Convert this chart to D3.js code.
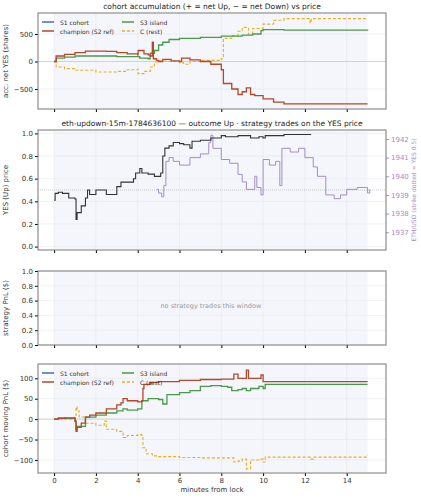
<!DOCTYPE html><html><head><meta charset="utf-8"><script src="https://cdn.jsdelivr.net/npm/d3@7"></script>
<style>body{margin:0;background:#fff}text{font-family:"DejaVu Sans",sans-serif}</style></head><body><svg id="c" width="421" height="500"></svg>
<script>
const xTicks=[0,2,4,6,8,10,12,14];
const accChampion=[[0,0],[0.1,100],[0.5,130],[1,160],[1.5,190],[2.5,185],[3,160],[3.5,140],[4,120],[4.02,200],[4.3,140],[4.5,120],[4.6,100],[4.7,350],[4.75,50],[4.9,20],[5,0],[5.2,40],[5.6,10],[6,0],[6.1,60],[6.5,30],[7,0],[7.5,-50],[8,-150],[8.1,-400],[8.5,-500],[8.8,-600],[9,-550],[9.2,-480],[9.4,-600],[9.6,-620],[10,-680],[10.5,-740],[11,-770],[15,-770]];
const accS3=[[0,0],[0.1,60],[0.5,80],[1,100],[2,100],[3,90],[4,90],[4.1,60],[4.5,50],[4.6,150],[4.8,200],[5,300],[5.2,350],[5.5,400],[6,420],[7,440],[8,460],[9,480],[9.5,500],[9.9,560],[10,580],[11,570],[15,560]];
const accC=[[0,0],[0.1,-100],[0.5,-130],[1,-160],[2,-190],[3,-180],[3.5,-150],[4,-140],[4.02,-220],[4.3,-180],[4.6,-100],[4.8,-10],[5,10],[5.5,0],[6,-20],[6.2,-50],[6.5,0],[7,20],[8,50],[8.1,420],[8.5,470],[8.8,550],[9,620],[9.3,500],[9.5,600],[10,680],[10.5,750],[11,780],[12.2,780],[12.25,700],[12.3,780],[15,780]];
const yesPrice=[[0,0.41],[0.05,0.47],[0.2,0.48],[0.4,0.47],[0.7,0.43],[1,0.42],[1.05,0.24],[1.1,0.3],[1.3,0.36],[1.5,0.43],[1.6,0.5],[1.7,0.46],[2,0.5],[2.5,0.46],[3,0.53],[3.2,0.57],[3.8,0.6],[3.9,0.65],[4.1,0.69],[4.2,0.65],[4.5,0.64],[4.8,0.62],[5.1,0.65],[5.2,0.8],[5.3,0.87],[5.5,0.89],[5.7,0.92],[6,0.91],[6.2,0.9],[6.5,0.87],[6.6,0.93],[7,0.94],[7.5,0.96],[8,0.98],[8.2,0.97],[8.8,0.98],[9.4,0.96],[9.8,0.97],[10,0.96],[10.1,0.98],[11,0.99],[12.3,0.99]];
const ethUsd=[[4.9,1939.3],[5.0,1939.1],[5.15,1938.9],[5.25,1939.5],[5.35,1940.8],[5.5,1941.0],[5.7,1940.8],[6,1940.6],[6.5,1941.0],[7,1941.2],[7.4,1941.8],[7.5,1942.2],[7.6,1941.5],[7.8,1941.5],[8,1940.9],[8.4,1940.7],[8.8,1940.1],[9,1939.7],[9.2,1939.3],[9.6,1940.0],[9.7,1939.4],[9.9,1939.0],[10,1940.9],[10.3,1940.6],[10.6,1940.8],[10.8,1939.5],[10.9,1941.5],[11.3,1941.3],[11.7,1941.5],[12,1941.0],[12.4,1940.5],[12.6,1940.0],[13,1939.0],[13.4,1938.8],[13.7,1939.0],[14,1939.3],[14.5,1939.4],[14.9,1939.4],[15,1939.1],[15.1,1939.3]];
const pnlChampion=[[0,0],[0.2,2],[0.5,3],[1,-5],[1.05,-30],[1.1,-20],[1.3,-10],[1.5,5],[1.7,10],[2,15],[2.5,25],[3,35],[3.2,40],[3.3,50],[3.5,45],[4,42],[4.2,45],[4.25,75],[4.3,85],[4.6,90],[5,92],[6,95],[7,97],[8,98],[8.6,110],[8.8,100],[9,100],[9.2,120],[9.3,100],[9.9,108],[10,92],[15,92]];
const pnlS3=[[0,0],[0.2,3],[0.5,2],[1,-5],[1.05,-25],[1.1,-18],[1.5,5],[2,10],[2.5,15],[3,20],[3.3,25],[3.5,22],[4,25],[4.2,45],[4.5,50],[5,48],[5.2,37],[5.4,60],[6,65],[6.5,70],[7,80],[7.5,82],[8,80],[8.3,78],[8.5,70],[8.8,72],[9,75],[9.2,70],[9.4,75],[9.8,80],[10,75],[10.1,85],[15,85]];
const pnlC=[[0,0],[0.5,0],[1,5],[1.05,30],[1.1,20],[1.2,5],[1.5,-10],[2,-15],[2.4,-5],[2.5,-25],[3,-30],[3.3,-45],[3.5,-40],[4,-38],[4.2,-40],[4.25,-70],[4.4,-85],[4.7,-90],[5,-92],[6,-94],[7,-95],[8.6,-105],[8.8,-103],[9,-98],[9.2,-122],[9.4,-100],[9.8,-98],[10,-105],[10.1,-93],[12.2,-93],[12.3,-98],[12.4,-93],[15,-90]];
const svg=d3.select("#c");
const L=38,R=386;
const x=d3.scaleLinear().domain([-0.77,15.88]).range([L,R]);
const C={blue:"#3b6fb6",red:"#b5472a",green:"#4a9a4a",orange:"#e8b020",black:"#333",purple:"#a58cc6"};
function panel(top,bot,dom,ticks,fmt,label,title){
 const y=d3.scaleLinear().domain(dom).range([bot,top]);
 const g=svg.append("g");
 g.append("rect").attr("x",x(0)).attr("width",x(15)-x(0)).attr("y",top+1).attr("height",bot-top-2).attr("fill","#f4f6fb");
 ticks.forEach(t=>g.append("line").attr("x1",L).attr("x2",R).attr("y1",y(t)).attr("y2",y(t)).attr("stroke","#e6e8ee").attr("stroke-width",0.6));
 xTicks.forEach(t=>g.append("line").attr("x1",x(t)).attr("x2",x(t)).attr("y1",top).attr("y2",bot).attr("stroke","#e6e8ee").attr("stroke-width",0.6));
 const ya=g.append("g").attr("transform",`translate(${L},0)`).call(d3.axisLeft(y).tickValues(ticks).tickFormat(fmt).tickSize(3).tickPadding(2));
 ya.select(".domain").remove();ya.selectAll("text").attr("font-size",7).attr("fill","#333");
 const xa=g.append("g").attr("transform",`translate(0,${bot})`).call(d3.axisBottom(x).tickValues(xTicks).tickSize(3).tickFormat(""));
 xa.select(".domain").remove();
 svg.append("text").attr("transform",`translate(8,${(top+bot)/2}) rotate(-90)`).attr("text-anchor","middle").attr("font-size",7).attr("fill","#333").text(label);
 if(title)svg.append("text").attr("x",(L+R)/2).attr("y",top-4).attr("text-anchor","middle").attr("font-size",title[1]).attr("fill","#222").text(title[0]);
 return {y,g,xa,top,bot};
}
function frame(p){svg.append("rect").attr("x",L).attr("y",p.top).attr("width",R-L).attr("height",p.bot-p.top).attr("fill","none").attr("stroke","#777").attr("stroke-width",1);}
function step(p,data,col,dash,w,yS){const ys=yS||p.y;p.g.append("path").datum(data).attr("d",d3.line().curve(d3.curveStepAfter).x(d=>x(d[0])).y(d=>ys(d[1]))).attr("fill","none").attr("stroke",col).attr("stroke-width",w||1.3).attr("stroke-dasharray",dash||null);}
function legend(p,yy){const items=[["S1 cohort",C.blue,null],["champion (S2 ref)",C.red,null],["S3 island",C.green,null],["C (rest)",C.orange,"3,2"]];
 items.forEach((it,i)=>{const lx=L+4+(i<2?0:80),ly=yy+(i%2)*9;p.g.append("line").attr("x1",lx).attr("x2",lx+12).attr("y1",ly).attr("y2",ly).attr("stroke",it[1]).attr("stroke-width",1.5).attr("stroke-dasharray",it[2]);
 p.g.append("text").attr("x",lx+18).attr("y",ly+2.5).attr("font-size",6).attr("fill","#333").text(it[0]);});}
// panel 1
const p1=panel(13,109,[-864,882],[-500,0,500],d3.format("d"),"acc. net YES (shares)",["cohort accumulation (+ = net Up, − = net Down) vs price",7.5]);
p1.g.append("line").attr("x1",L).attr("x2",R).attr("y1",p1.y(0)).attr("y2",p1.y(0)).attr("stroke","#ccc").attr("stroke-width",0.8);
step(p1,accC,C.orange,"3,2",1.1);step(p1,accS3,C.green);step(p1,accChampion,C.red);
legend(p1,22);frame(p1);
// panel 2
const p2=panel(130,250,[-0.03,1.03],[0,0.2,0.4,0.6,0.8,1.0],d3.format(".1f"),"YES (Up) price",["eth-updown-15m-1784636100 — outcome Up · strategy trades on the YES price",7.5]);
const y2=d3.scaleLinear().domain([1936.05,1942.48]).range([250,130]);
p2.g.append("line").attr("x1",L).attr("x2",R).attr("y1",p2.y(0.5)).attr("y2",p2.y(0.5)).attr("stroke","#bbb").attr("stroke-width",0.8).attr("stroke-dasharray","1,1");
step(p2,ethUsd,C.purple,null,1,y2);
step(p2,yesPrice,C.black,null,1.1);
const ra=svg.append("g").attr("transform",`translate(${R},0)`).call(d3.axisRight(y2).tickValues([1937,1938,1939,1940,1941,1942]).tickFormat(d3.format("d")).tickSize(3).tickPadding(2));
ra.select(".domain").remove();ra.selectAll("text").attr("font-size",7).attr("fill",C.purple);ra.selectAll("line").attr("stroke",C.purple);
svg.append("text").attr("transform",`translate(416,190) rotate(-90)`).attr("text-anchor","middle").attr("font-size",6).attr("fill",C.purple).text("ETH/USD (strike dotted = YES 0.5)");
frame(p2);
// panel 3
const p3=panel(271,345,[0,1],[0,0.2,0.4,0.6,0.8,1.0],d3.format(".1f"),"strategy PnL ($)");
p3.g.append("text").attr("x",x(7.5)).attr("y",p3.y(0.5)).attr("text-anchor","middle").attr("font-size",6.5).attr("fill","#999").text("no strategy trades this window");
frame(p3);
// panel 4
const p4=panel(364,473,[-132,135],[-100,-50,0,50,100],d3.format("d"),"cohort moving PnL ($)");
p4.g.append("line").attr("x1",L).attr("x2",R).attr("y1",p4.y(0)).attr("y2",p4.y(0)).attr("stroke","#ccc").attr("stroke-width",0.8);
step(p4,pnlC,C.orange,"3,2",1.1);step(p4,pnlS3,C.green);step(p4,pnlChampion,C.red);
legend(p4,373);frame(p4);
p4.xa.call(d3.axisBottom(x).tickValues(xTicks).tickSize(3).tickPadding(2)).selectAll("text").attr("font-size",7).attr("fill","#333");
p4.xa.select(".domain").remove();
svg.append("text").attr("x",(L+R)/2).attr("y",492).attr("text-anchor","middle").attr("font-size",7).attr("fill","#333").text("minutes from lock");
</script></body></html>
